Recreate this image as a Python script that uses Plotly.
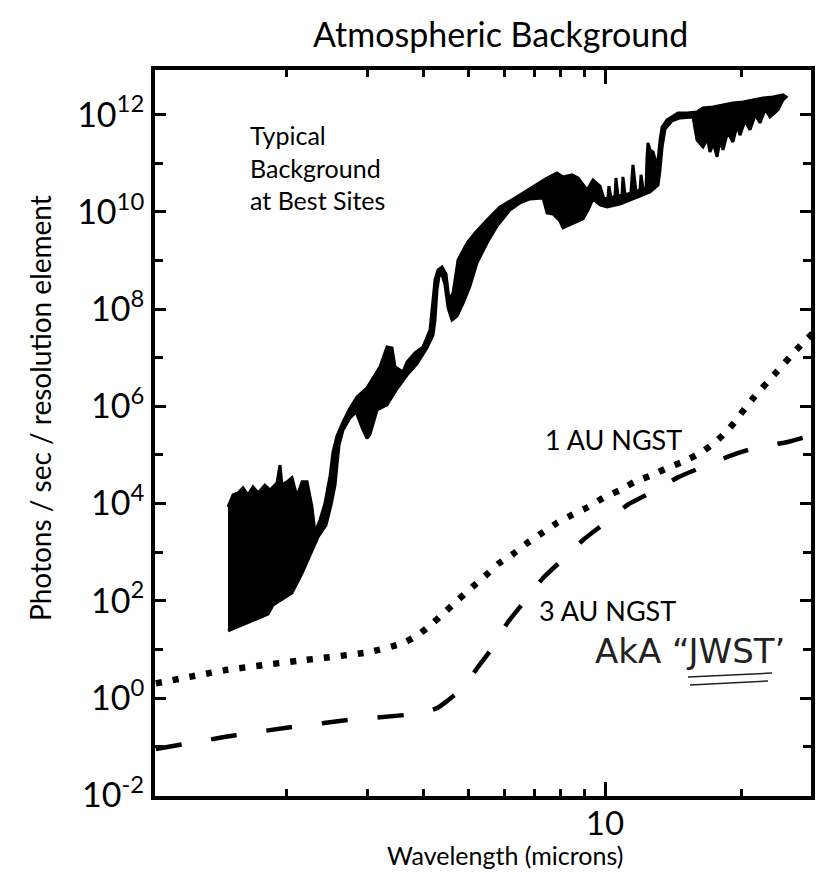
import plotly.graph_objects as go

# ---------------- data ----------------
# Atmospheric background spectrum: outline of the filled black region
bg_upper_wl = [1.484, 1.522, 1.561, 1.601, 1.642, 1.684, 1.728, 1.789, 1.835, 1.901,
               1.931, 1.950, 2.000, 2.051, 2.104, 2.159, 2.214, 2.270, 2.305, 2.364,
               2.425, 2.487, 2.525, 2.576, 2.656, 2.752, 2.851, 2.999, 3.203, 3.318,
               3.403, 3.455, 3.597, 3.671, 3.823, 3.981, 4.125, 4.188, 4.231, 4.296,
               4.384, 4.473, 4.542, 4.635, 4.754, 4.975, 5.180, 5.504, 5.878, 6.407,
               6.947, 7.457, 7.844, 8.087, 8.463, 8.724, 9.130, 9.410, 9.750, 9.95,
               10.15, 10.20, 10.31, 10.52, 10.57, 10.68, 10.90, 10.95, 11.07, 11.40,
               11.52, 11.70, 11.94, 12.00, 12.12, 12.31, 12.37, 12.43, 12.56, 12.75,
               12.94, 13.08, 13.21, 13.35, 13.69, 14.04, 14.47, 15.14, 15.93, 16.42,
               17.28, 18.17, 19.11, 20.11, 21.15, 22.25, 23.40, 24.61, 24.99]
bg_upper_val = [8.5e3, 1.5e4, 1.65e4, 2.1e4, 1.5e4, 2.2e4, 1.65e4, 2.4e4, 1.9e4, 2.65e4,
                6.2e4, 2.4e4, 2.8e4, 3.4e4, 1.4e4, 2.8e4, 2.8e4, 8.5e3, 2.5e3, 4.6e3,
                1.03e4, 3.7e4, 1.15e5, 2.46e5, 4.8e5, 9.3e5, 1.56e6, 2.4e6, 6.5e6, 1.67e7,
                1.59e7, 6.5e6, 5.1e6, 8.2e6, 1.26e7, 1.67e7, 3.7e7, 1.55e8, 4.0e8, 6.4e8,
                7.4e8, 5.3e8, 1.55e8, 2.15e8, 1.03e9, 2.3e9, 3.7e9, 6.8e9, 1.27e10, 2.04e10,
                3.27e10, 5.0e10, 6.3e10, 5.25e10, 5.8e10, 5.0e10, 2.84e10, 4.55e10, 3.4e10, 1.85e10,
                1.94e10, 3.4e10, 1.94e10, 2.13e10, 5.0e10, 2.13e10, 2.24e10, 5.25e10, 2.24e10, 2.46e10,
                9.3e10, 2.58e10, 2.84e10, 5.8e10, 2.97e10, 3.12e10, 1.36e11, 2.63e11, 1.89e11, 1.72e11,
                1.07e11, 1.18e11, 3.0e11, 5.6e11, 7.8e11, 9.0e11, 1.09e12, 1.09e12, 1.14e12, 1.38e12,
                1.45e12, 1.59e12, 1.75e12, 1.83e12, 2.02e12, 2.22e12, 2.32e12, 2.55e12, 2.32e12]

bg_lower_wl = [1.484, 1.817, 1.864, 2.051, 2.159, 2.270, 2.340, 2.437, 2.500, 2.551,
               2.576, 2.603, 2.656, 2.752, 2.837, 2.924, 2.999, 3.045, 3.155, 3.318,
               3.49, 3.671, 3.86, 4.06, 4.188, 4.231, 4.274, 4.318, 4.384, 4.45,
               4.52, 4.61, 4.73, 4.88, 5.05, 5.23, 5.504, 5.79, 6.18, 6.50,
               6.84, 7.31, 7.457, 7.69, 7.96, 8.087, 8.50, 8.95, 9.18, 9.41,
               9.75, 10.10, 10.79, 11.52, 12.56, 13.08, 13.21, 13.35, 13.55, 14.04,
               14.62, 15.61, 15.93, 16.42, 16.8, 17.01, 17.3, 17.63, 17.9, 18.17,
               18.6, 19.11, 19.5, 19.8, 20.3, 20.83, 21.4, 21.91, 22.5, 23.05,
               24.0, 24.61]
bg_lower_val = [24, 53, 82, 145, 373, 1.11e3, 2.05e3, 3.6e3, 9.4e3, 2.41e4,
                6.2e4, 1.6e5, 3.27e5, 5.8e5, 7.7e5, 3.7e5, 2.2e5, 2.7e5, 8.4e5, 1.07e6,
                2.3e6, 4.4e6, 7.5e6, 1.59e7, 2.94e7, 6.0e7, 2.5e8, 4.8e8, 5.06e8, 3.15e8,
                1.06e8, 6.0e7, 7.2e7, 1.34e8, 3.0e8, 8.9e8, 2.3e9, 5.15e9, 1.10e10, 1.53e10,
                1.85e10, 1.94e10, 9.5e9, 9.1e9, 6.5e9, 4.7e9, 5.7e9, 7.2e9, 1.10e10, 1.85e10,
                1.39e10, 1.27e10, 1.46e10, 1.85e10, 2.58e10, 3.6e10, 7.3e10, 2.17e11, 5.1e11, 7.5e11,
                8.6e11, 9.0e11, 3.0e11, 2.17e11, 3.2e11, 1.72e11, 2.6e11, 1.36e11, 3.0e11, 1.89e11,
                4.4e11, 2.75e11, 6.0e11, 3.8e11, 7.5e11, 4.9e11, 1.0e12, 6.8e11, 1.3e12, 9.0e11,
                1.26e12, 2.02e12]

# 1 AU NGST (dotted)
ngst1_wl = [1.03, 1.48, 2.11, 3.03, 3.60, 3.88, 4.19, 4.45, 4.75, 5.11, 5.45, 5.82,
            6.28, 6.75, 7.27, 7.84, 8.46, 9.18, 9.90, 10.8, 11.6, 12.7, 13.7, 14.8,
            16.2, 17.5, 18.8, 21.0, 23.6, 26.6, 29.4]
ngst1_val = [2.0, 3.8, 5.8, 8.8, 13.5, 19.8, 35, 59, 104, 192, 324, 572,
             918, 1545, 2480, 3990, 5830, 8510, 1.30e4, 1.9e4, 2.78e4, 3.87e4, 5.4e4, 7.2e4,
             1.1e5, 1.85e5, 3.6e5, 1.35e6, 4.6e6, 1.6e7, 4.1e7]

# 3 AU NGST (dashed)
ngst3_wl = [1.03, 1.55, 2.05, 2.72, 3.63, 4.02, 4.28, 4.50, 4.73, 4.98, 5.24, 5.65,
            6.10, 6.61, 7.31, 8.05, 8.95, 10.0, 11.2, 12.7, 14.5, 16.4, 19.1, 21.7,
            25.2, 28.6, 29.7]
ngst3_val = [0.089, 0.173, 0.253, 0.352, 0.447, 0.515, 0.62, 0.87, 1.27, 2.13, 4.14, 10.7,
             35, 90, 294, 691, 1780, 3990, 9350, 1.73e4, 3.5e4, 5.7e4, 1.0e5, 1.46e5,
             1.85e5, 2.58e5, 2.84e5]

x_major = [10]
x_minor = [2, 3, 4, 5, 6, 7, 8, 9, 20]
y_major_exp = [-2, 0, 2, 4, 6, 8, 10, 12]
y_minor_exp = [-1, 1, 3, 5, 7, 9, 11]

# ---------------- figure ----------------
FONT = "Lato"
fig = go.Figure()

poly_x = bg_upper_wl + bg_lower_wl[::-1]
poly_y = bg_upper_val + bg_lower_val[::-1]
fig.add_trace(go.Scatter(x=poly_x, y=poly_y, mode="lines", fill="toself",
                         fillcolor="black", line=dict(color="black", width=3),
                         hoverinfo="skip", showlegend=False))

fig.add_trace(go.Scatter(x=ngst1_wl, y=ngst1_val, mode="lines",
                         line=dict(color="black", width=6.5, dash="6px,11px", shape="spline", smoothing=0.5),
                         showlegend=False))
fig.add_trace(go.Scatter(x=ngst3_wl, y=ngst3_val, mode="lines",
                         line=dict(color="black", width=4.5, dash="26px,30px", shape="spline", smoothing=0.5),
                         showlegend=False))

W, H = 824, 874
# plot area in screen pixels (right edge kept inside the visible part of the window)
SL, SR, ST, SB = 155, 811, 70, 796
L, R, T, B = SL, W - SR, ST, H - SB
pw, ph = SR - SL, SB - ST
PX_PER_DECADE = 455.0
X_LO = 0.011
X_HI = X_LO + pw / PX_PER_DECADE


def px(x):
    return (x - SL) / pw


def py(y):
    return (SB - y) / ph


fig.update_layout(
    template="none",
    width=W, height=H,
    margin=dict(l=L, r=R, t=T, b=B, pad=0, autoexpand=False),
    paper_bgcolor="white", plot_bgcolor="white",
    font=dict(family=FONT, color="black"),
    showlegend=False,
)

fig.update_xaxes(
    type="log", range=[X_LO, X_HI], automargin=False,
    showline=True, linewidth=4, linecolor="black", mirror="ticks",
    showgrid=False, zeroline=False,
    tickmode="array", tickvals=x_major, ticktext=[str(v) for v in x_major],
    ticks="inside", ticklen=14, tickwidth=3, tickcolor="black",
    tickfont=dict(size=33, family=FONT), ticklabelstandoff=-5,
    minor=dict(tickmode="array", tickvals=x_minor, ticks="inside", ticklen=7,
               tickwidth=3, tickcolor="black", showgrid=False),
)
fig.update_yaxes(
    type="log", range=[-2.016, 12.92], automargin=False,
    showline=True, linewidth=4, linecolor="black", mirror="ticks",
    showgrid=False, zeroline=False,
    tickmode="array", tickvals=[10.0 ** e for e in y_major_exp],
    ticktext=["10<sup>%d</sup>" % e for e in y_major_exp],
    ticks="inside", ticklen=11, tickwidth=3, tickcolor="black",
    tickfont=dict(size=34, family=FONT),
    minor=dict(tickmode="array", tickvals=[10.0 ** e for e in y_minor_exp], ticks="inside",
               ticklen=8, tickwidth=3, tickcolor="black", showgrid=False),
)

ann = []
ann.append(dict(text="Atmospheric Background", x=px(500), y=py(34), xref="paper", yref="paper",
                showarrow=False, font=dict(size=34, family=FONT), xanchor="center", yanchor="middle"))
ann.append(dict(text="Wavelength (microns)", x=px(505), y=py(855), xref="paper", yref="paper",
                showarrow=False, font=dict(size=25, family=FONT), xanchor="center", yanchor="middle"))
ann.append(dict(text="Photons / sec / resolution element", x=px(40), y=py(408), xref="paper", yref="paper",
                showarrow=False, textangle=-90, font=dict(size=28, family=FONT),
                xanchor="center", yanchor="middle"))
ann.append(dict(text="Typical<br>Background<br>at Best Sites", x=px(248), y=py(118), xref="paper", yref="paper",
                showarrow=False, align="left", font=dict(size=25, family=FONT),
                xanchor="left", yanchor="top"))
ann.append(dict(text="1 AU NGST", x=px(613), y=py(440), xref="paper", yref="paper",
                showarrow=False, font=dict(size=27, family=FONT), xanchor="center", yanchor="middle"))
ann.append(dict(text="3 AU NGST", x=px(607), y=py(610), xref="paper", yref="paper",
                showarrow=False, font=dict(size=27, family=FONT), xanchor="center", yanchor="middle"))
ann.append(dict(text="AkA “JWST’", x=px(690), y=py(651), xref="paper", yref="paper",
                showarrow=False, font=dict(size=34, family="DejaVu Sans", color="#222"),
                xanchor="center", yanchor="middle"))
fig.update_layout(annotations=ann)

fig.update_layout(shapes=[
    dict(type="line", xref="paper", yref="paper", x0=px(688), x1=px(772), y0=py(677), y1=py(673),
         line=dict(color="#222", width=1.5)),
    dict(type="line", xref="paper", yref="paper", x0=px(690), x1=px(768), y0=py(685), y1=py(681),
         line=dict(color="#222", width=1.5)),
])

# remove the default page margin so the figure fills the 824x874 window exactly
fig.write_html("out.html", config={"displayModeBar": False},
               post_script="document.body.style.margin='0';document.body.style.overflow='hidden';")
